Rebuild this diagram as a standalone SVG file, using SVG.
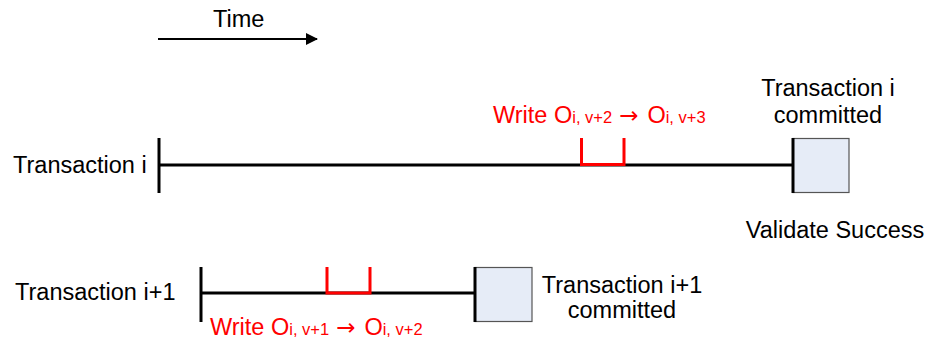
<svg xmlns="http://www.w3.org/2000/svg" width="927" height="341" viewBox="0 0 927 341">
  <style>
    text { font-family: "Liberation Sans", Arial, sans-serif; font-size: 23.5px; fill: #000; }
    .red { fill: #ff0000; }
    .sub { font-size: 16.5px; }
    .to { font-family: "DejaVu Sans", sans-serif; font-size: 23px; }
    .mid { text-anchor: middle; }
    .axis { stroke: #000; stroke-width: 3; fill: none; }
    .write { stroke: #ff0000; stroke-width: 3; fill: none; }
    .commit { fill: #e6ecf7; stroke: #555; stroke-width: 1.2; }
    .arrow { stroke: #000; stroke-width: 2; fill: none; }
  </style>
  <defs>
    <marker id="head" viewBox="0 0 12 12" refX="11" refY="6" markerWidth="12" markerHeight="12" markerUnits="userSpaceOnUse" orient="auto">
      <path d="M0,0 L12,6 L0,12 Z" fill="#000"/>
    </marker>
  </defs>

  <!-- connectors: time arrow and the two timelines -->
  <g id="connectors">
    <line class="arrow" x1="158" y1="39" x2="317" y2="39" marker-end="url(#head)"/>
    <line class="axis" x1="159" y1="165" x2="793" y2="165"/>
    <line class="axis" x1="201" y1="293" x2="475" y2="293"/>
  </g>

  <!-- time direction -->
  <g id="time">
    <text x="213" y="27">Time</text>
  </g>

  <!-- transaction i timeline -->
  <g id="txn-i">
    <text x="13" y="173">Transaction i</text>
    <line class="axis" x1="159" y1="138" x2="159" y2="193"/>
  </g>
  <g id="txn-i-write">
    <path class="write" d="M581.5,138 V164.5 H624 V138"/>
    <text x="493" y="123" class="red">Write O<tspan class="sub">i, v+2</tspan><tspan class="to" dx="7">→</tspan><tspan dx="9">O</tspan><tspan class="sub">i, v+3</tspan></text>
  </g>
  <g id="txn-i-commit">
    <rect class="commit" x="793" y="138.5" width="56" height="54"/>
    <line class="axis" x1="793" y1="138" x2="793" y2="193"/>
    <text class="mid" x="828" y="96">Transaction i</text>
    <text class="mid" x="828" y="123">committed</text>
    <text class="mid" x="835" y="238">Validate Success</text>
  </g>

  <!-- transaction i+1 timeline -->
  <g id="txn-i1">
    <text x="15" y="300">Transaction i+1</text>
    <line class="axis" x1="201" y1="267" x2="201" y2="322"/>
  </g>
  <g id="txn-i1-write">
    <path class="write" d="M327,267 V293 H370 V267"/>
    <text x="210" y="335" class="red">Write O<tspan class="sub">i, v+1</tspan><tspan class="to" dx="7">→</tspan><tspan dx="9">O</tspan><tspan class="sub">i, v+2</tspan></text>
  </g>
  <g id="txn-i1-commit">
    <rect class="commit" x="475" y="267.5" width="57" height="54"/>
    <line class="axis" x1="475" y1="267" x2="475" y2="322"/>
    <text class="mid" x="622" y="293">Transaction i+1</text>
    <text class="mid" x="622" y="318">committed</text>
  </g>
</svg>
